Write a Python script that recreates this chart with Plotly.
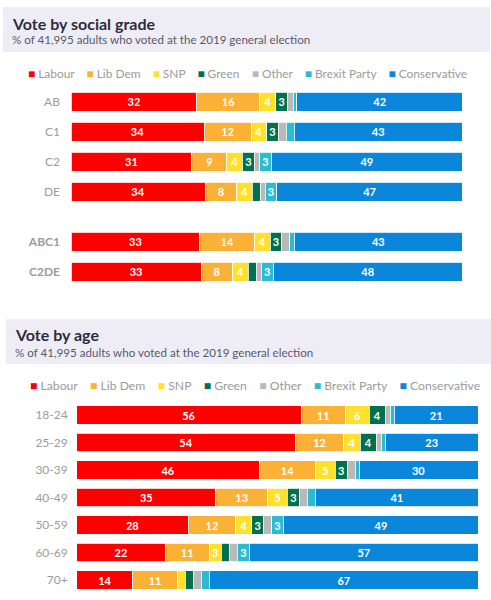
import plotly.graph_objects as go

# ---------------- data ----------------
parties = ["Labour", "Lib Dem", "SNP", "Green", "Other", "Brexit Party", "Conservative"]
party_colors = ["#FF0000", "#FBB135", "#FDE12D", "#00704F", "#B9B9B9", "#2BBCD2", "#0A87DA"]

grade_groups = ["AB", "C1", "C2", "DE", "ABC1", "C2DE"]
grade_values = {
    "Labour":       [32, 34, 31, 34, 33, 33],
    "Lib Dem":      [16, 12, 9, 8, 14, 8],
    "SNP":          [4, 4, 4, 4, 4, 4],
    "Green":        [3, 3, 3, 2, 3, 2],
    "Other":        [1.4, 2, 1.4, 1.2, 2, 1.3],
    "Brexit Party": [1, 2, 3, 3, 1.2, 3],
    "Conservative": [42, 43, 49, 47, 43, 48],
}

age_groups = ["18-24", "25-29", "30-39", "40-49", "50-59", "60-69", "70+"]
age_values = {
    "Labour":       [56, 54, 46, 35, 28, 22, 14],
    "Lib Dem":      [11, 12, 14, 13, 12, 11, 11],
    "SNP":          [6, 4, 5, 5, 4, 3, 2],
    "Green":        [4, 4, 3, 3, 3, 2, 2],
    "Other":        [1.2, 1.2, 2, 2, 2, 2, 2],
    "Brexit Party": [1, 1, 1, 2, 3, 3, 2],
    "Conservative": [21, 23, 30, 41, 49, 57, 67],
}

title_top = "Vote by social grade"
title_bottom = "Vote by age"
subtitle = "% of 41,995 adults who voted at the 2019 general election"

# ---------------- layout helpers ----------------
W, H = 491, 600
FONT = "Lato"
def py(px):
    return 1 - px / H
def px_(x):
    return x / W

# numeric y positions for grade chart (gap before summary rows)
grade_pos = [i if i < 4 else i + 0.67 for i in range(len(grade_groups))]
grade_ticktext = [g if i < 4 else f"<b>{g}</b>" for i, g in enumerate(grade_groups)]

def label(v):
    return str(int(round(v))) if v >= 2.5 else ""

fig = go.Figure()
for p, c in zip(parties, party_colors):
    vals = grade_values[p]
    fig.add_trace(go.Bar(
        x=vals, y=grade_pos, orientation="h", name=p,
        marker=dict(color=c, line=dict(color="white", width=0.8)),
        text=[label(v) for v in vals], textposition="inside",
        insidetextanchor="middle", textangle=0,
        textfont=dict(color="white", size=11, family=FONT, weight="bold"),
        width=0.633, showlegend=False, xaxis="x", yaxis="y",
        hoverinfo="skip",
    ))
for p, c in zip(parties, party_colors):
    vals = age_values[p]
    fig.add_trace(go.Bar(
        x=vals, y=age_groups, orientation="h", name=p,
        marker=dict(color=c, line=dict(color="white", width=0.8)),
        text=[label(v) for v in vals], textposition="inside",
        insidetextanchor="middle", textangle=0,
        textfont=dict(color="white", size=11, family=FONT, weight="bold"),
        width=0.665, showlegend=False, xaxis="x2", yaxis="y2",
        hoverinfo="skip",
    ))

def legend_text():
    parts = []
    for p, c in zip(parties, party_colors):
        parts.append(f"<span style='color:{c}'>■</span> {p}")
    return "&nbsp;&nbsp;&nbsp;&nbsp;".join(parts)

shapes = [
    dict(type="rect", xref="paper", yref="paper",
         x0=px_(3), x1=px_(490), y0=py(52), y1=py(7),
         fillcolor="#EEEDF5", line=dict(width=0), layer="below"),
    dict(type="rect", xref="paper", yref="paper",
         x0=px_(6), x1=px_(491), y0=py(364), y1=py(319),
         fillcolor="#EEEDF5", line=dict(width=0), layer="below"),
]

annotations = [
    dict(text=f"<b>{title_top}</b>", x=px_(10), y=py(23), xref="paper", yref="paper",
         xanchor="left", yanchor="middle", showarrow=False,
         font=dict(family=FONT, size=16, color="#2E2B3F")),
    dict(text=subtitle, x=px_(10), y=py(40), xref="paper", yref="paper",
         xanchor="left", yanchor="middle", showarrow=False,
         font=dict(family=FONT, size=11.6, color="#5B5868")),
    dict(text=f"<b>{title_bottom}</b>", x=px_(13), y=py(334), xref="paper", yref="paper",
         xanchor="left", yanchor="middle", showarrow=False,
         font=dict(family=FONT, size=16, color="#2E2B3F")),
    dict(text=subtitle, x=px_(13), y=py(352), xref="paper", yref="paper",
         xanchor="left", yanchor="middle", showarrow=False,
         font=dict(family=FONT, size=11.6, color="#5B5868")),
    dict(text=legend_text(), x=px_(247.5), y=py(73), xref="paper", yref="paper",
         xanchor="center", yanchor="middle", showarrow=False,
         font=dict(family=FONT, size=11.9, color="#9A9A9A")),
    dict(text=legend_text(), x=px_(255), y=py(385), xref="paper", yref="paper",
         xanchor="center", yanchor="middle", showarrow=False,
         font=dict(family=FONT, size=12.2, color="#9A9A9A")),
]

fig.update_layout(
    width=W, height=H,
    margin=dict(l=0, r=0, t=0, b=0),
    paper_bgcolor="white", plot_bgcolor="white",
    barmode="stack", barnorm="percent",
    uniformtext=dict(minsize=11, mode="show"),
    shapes=shapes, annotations=annotations,
    xaxis=dict(domain=[px_(71), px_(462.3)], range=[0, 100], visible=False, fixedrange=True),
    yaxis=dict(domain=[py(286.7), py(86.7)], range=[grade_pos[-1] + 0.5, -0.5],
               tickvals=grade_pos, ticktext=grade_ticktext, showgrid=False,
               zeroline=False, showline=False, ticks="", ticklabelstandoff=10,
               tickfont=dict(family=FONT, size=12, color="#9C9C9C"), fixedrange=True),
    xaxis2=dict(domain=[px_(76.7), px_(478.3)], range=[0, 100], visible=False,
                anchor="y2", fixedrange=True),
    yaxis2=dict(domain=[py(593.75), py(401.25)], anchor="x2", type="category",
                autorange="reversed", showgrid=False, zeroline=False, showline=False,
                ticks="", ticklabelstandoff=8,
                tickfont=dict(family=FONT, size=12, color="#9C9C9C"), fixedrange=True),
    font=dict(family=FONT),
)

fig.write_html(
    "out.html",
    config={"displayModeBar": False},
    post_script="document.body.style.margin='0px';document.body.style.overflow='hidden';",
)
